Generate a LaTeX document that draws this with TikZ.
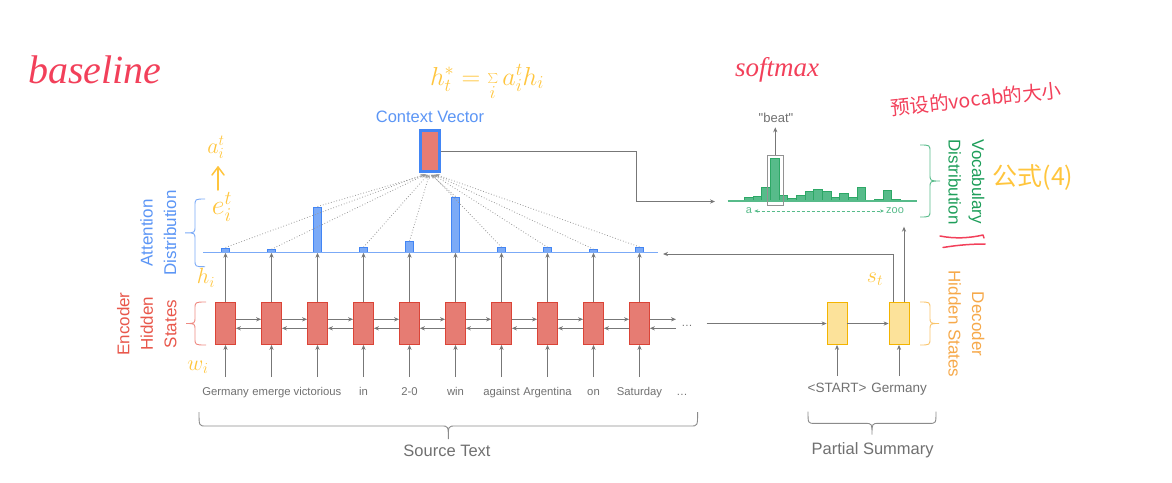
\RequirePackage{fix-cm}
\documentclass[tikz,border=0pt]{standalone}
\usepackage{fontspec}
\setmainfont{Liberation Sans}
\newfontfamily\handfont{Liberation Serif}
\newfontfamily\cjk{Noto Sans CJK SC}
\usetikzlibrary{arrows.meta}

\definecolor{gline}{HTML}{777777}
\definecolor{gtext}{HTML}{707070}
\definecolor{encfill}{HTML}{E67C73}
\definecolor{encdraw}{HTML}{DB4437}
\definecolor{enctext}{HTML}{E8574B}
\definecolor{encbrace}{HTML}{EE8A82}
\definecolor{attblue}{HTML}{4285F4}
\definecolor{atttext}{HTML}{5B95F5}
\definecolor{attfill}{HTML}{7BAAF7}
\definecolor{vocgreen}{HTML}{1E9E5A}
\definecolor{vocfill}{HTML}{57BB8A}
\definecolor{vocdraw}{HTML}{2DA866}
\definecolor{decfill}{HTML}{FCE29A}
\definecolor{decdraw}{HTML}{F4B400}
\definecolor{dectext}{HTML}{F6A94A}
\definecolor{decbrace}{HTML}{F9C46B}
\definecolor{penred}{HTML}{F2405A}
\definecolor{penyellow}{HTML}{FFC53D}

% curly brace: length / offset of the straight part / offset of the tip
\tikzset{pics/cbrace/.style args={#1/#2/#3}{code={%
  \draw[pic actions] (0,0) .. controls (0,#2) .. (7,#2) -- ({#1/2-7},#2)
    .. controls ({#1/2},#2) .. ({#1/2},#3)
    .. controls ({#1/2},#2) .. ({#1/2+7},#2) -- ({#1-7},#2)
    .. controls (#1,#2) .. (#1,0);}}}

\begin{document}
\begin{tikzpicture}[x=1pt,y=-1pt,
  every node/.style={inner sep=0pt},
  conn/.style={draw=gline, line width=0.9pt, -{Stealth[length=5pt,width=4.2pt]}},
  encbox/.style={rectangle, draw=encdraw, fill=encfill, line width=0.8pt,
    minimum width=20pt, minimum height=42pt},
  decbox/.style={rectangle, draw=decdraw, fill=decfill, line width=0.8pt,
    minimum width=20pt, minimum height=42pt},
  ctxbox/.style={rectangle, draw=attblue, fill=encfill, line width=3pt,
    minimum width=19pt, minimum height=41pt},
  word/.style={text=gtext, font=\fontsize{11.3}{13}\selectfont, anchor=base},
  decword/.style={text=gtext, font=\fontsize{13.5}{15}\selectfont, anchor=base},
  caption/.style={text=gtext, font=\fontsize{16.5}{19}\selectfont},
  sidelabel/.style={align=center, font=\fontsize{17}{23.5}\selectfont},
  attbar/.style={rectangle, draw=attblue, fill=attfill, line width=0.8pt,
    minimum width=8.5pt, anchor=south},
  vocbar/.style={rectangle, draw=vocdraw, fill=vocfill, line width=0.7pt,
    minimum width=8.67pt, anchor=south},
  attn/.style={draw=gline!75, line width=0.8pt, dotted,
    -{Stealth[length=4pt,width=3.4pt]}},
  pen/.style={line width=1.5pt, line cap=round, line join=round},
]
\useasboundingbox (0,0) rectangle (1172,482);

% ---------------- encoder ----------------
\coordinate (fy) at (0,319.3);
\coordinate (by) at (0,328.3);
\coordinate (attL) at (203,252.7);
\coordinate (attR) at (658,252.7);
\foreach \w [count=\i from 0] in {Germany,emerge,victorious,in,2-0,win,against,Argentina,on,Saturday}{
  \node[encbox] (e\i) at ({225.5+46*\i},323.5) {};
  \node[word] (w\i) at ({225.5+46*\i},395) {\w};
  \coordinate (in\i) at ({225.5+46*\i},377);
  \draw[conn] (in\i) -- (e\i.south);
  \draw[conn] (e\i.north) -- (e\i.north |- attL);
}
\foreach \i [evaluate=\i as \j using int(\i+1)] in {0,...,8}{
  \draw[conn] (e\i.east |- fy) -- (e\j.west |- fy);
  \draw[conn] (e\j.west |- by) -- (e\i.east |- by);
}
\coordinate (fwdend) at (676,319.3);
\coordinate (bwdstart) at (676,328.3);
\draw[conn] (e9.east |- fy) -- (fwdend);
\draw[conn] (bwdstart) -- (e9.east |- by);
\node[word] (dotsA) at (687,326) {…};
\node[word] (dotsB) at (682,395) {…};

% ---------------- context vector & attention ----------------
\node[ctxbox] (cv) at (430,151) {};
\node[text=atttext, font=\fontsize{16.5}{19}\selectfont] (cvl) at (430,116.7) {Context Vector};

\foreach \h [count=\i from 0] in {4.4,2.7,45.4,4.7,10.7,55.4,4.7,4.7,2.7,5}{
  \node[attbar, minimum height=\h pt] (b\i) at ({225.5+46*\i},252.7) {};
}
\foreach \i in {0,...,9}{
  \draw[attn] (b\i.north) -- ([xshift={(\i-4.5)*1.3pt}, yshift=-1.5pt]cv.south);
}
\draw[draw=attfill, line width=1.5pt] (attL) -- (attR);

% ---------------- decoder ----------------
\coordinate (encout) at (706.7,323.5);
\node[decbox] (d0) at (837,323.5) {};
\node[decbox] (d1) at (899,323.5) {};
\draw[conn] (encout) -- (d0.west);
\draw[conn] (d0.east) -- (d1.west);
\node[decword] (ds) at (837,392.5) {<START>};
\node[decword] (dg) at (899,392.5) {Germany};
\coordinate (din0) at (837,376);
\coordinate (din1) at (899,376);
\draw[conn] (din0) -- (d0.south);
\draw[conn] (din1) -- (d1.south);
\coordinate (attin) at (663,254);
\draw[conn] ([xshift=-5.7pt]d1.north) |- (attin);

% ---------------- vocabulary distribution ----------------
\coordinate (vocL) at (727.7,201);
\coordinate (vocR) at (917,201);
\foreach \h [count=\k from 0] in {3.7,4.3,13.7,42,5,2.7,5,9.7,11.7,9.7,3.7,7.7,3.7,13.7,0.8,1.7,10.3,1.7}{
  \node[vocbar, minimum height=\h pt] (v\k) at ({748.6+8.67*\k},201) {};
}
\draw[draw=vocfill, line width=1.3pt] (vocL) -- (vocR);
\node[draw=gline!80, line width=0.9pt, minimum width=16pt, minimum height=49.3pt] (beatbox) at (775.3,180.4) {};
\coordinate (beattop) at (775.3,127.3);
\draw[conn] (beatbox.north) -- (beattop);
\node[text=gtext, font=\fontsize{13}{15}\selectfont] (beat) at (776,118.3) {\textquotedbl beat\textquotedbl};
\node[text=vocfill, font=\fontsize{11}{13}\selectfont, inner sep=2pt] (va) at (749,211) {a};
\node[text=vocfill, font=\fontsize{11}{13}\selectfont, inner sep=2pt] (vz) at (895,211) {zoo};
\draw[draw=vocfill, line width=0.9pt, dash pattern=on 3pt off 2pt,
  {Stealth[length=4pt,width=3.4pt]}-{Stealth[length=4pt,width=3.4pt]}] (va.east) -- (vz.west);

\coordinate (bend) at (636.7,201.5);
\coordinate (vocin) at (715,201.5);
\draw[conn] (cv.east) -| (bend) -- (vocin);
\coordinate (vocup) at (904,226.7);
\draw[conn] ([xshift=5pt]d1.north) -- (vocup);

% ---------------- braces and side labels ----------------
\pic[draw=encbrace, line width=0.9pt, rotate=-90] at (206,302) {cbrace=43/11/20};
\pic[draw=attfill, line width=0.9pt, rotate=-90] at (205,199) {cbrace=67.7/10/20};
\pic[draw=decbrace, line width=0.9pt, rotate=90] at (920,345) {cbrace=43/10/19};
\pic[draw=vocfill, line width=0.9pt, rotate=90] at (920,217) {cbrace=72/10/20};
\pic[draw=gline!85, line width=0.9pt] at (199,412) {cbrace=498.6/14/27};
\pic[draw=gline!85, line width=0.9pt] at (808,411.7) {cbrace=128/11.7/23};

\node[sidelabel, text=enctext, rotate=90] (enclab) at (146.7,324) {Encoder\\Hidden\\States};
\node[sidelabel, text=atttext, rotate=90] (attlab) at (158.3,233) {Attention\\Distribution};
\node[sidelabel, text=dectext, rotate=-90] (declab) at (966.5,324) {Decoder\\Hidden States};
\node[sidelabel, text=vocgreen, rotate=-90] (voclab) at (966.5,182) {Vocabulary\\Distribution};

\node[caption] (src) at (447,451) {Source Text};
\node[caption] (part) at (872.7,450) {Partial Summary};

% ---------------- pen annotations ----------------
\node[text=penred, font=\handfont\itshape\fontsize{40}{42}\selectfont] (hbase) at (95,70) {baseline};
\node[text=penred, font=\handfont\itshape\fontsize{27}{30}\selectfont] (hsoft) at (777,70) {softmax};
\node[text=penred, font=\cjk\fontsize{19.5}{22}\selectfont, rotate=6] (hvoc) at (976,99) {预设的vocab的大小};
\node[text=penyellow, font=\fontsize{26}{30}\selectfont] (hform) at (487,82) {$h^{*}_{t}=\sum\limits_{i} a_i^t h_i$};
\node[text=penyellow, font=\cjk\fontsize{25}{30}\selectfont] (hgs) at (1033,177) {公式(4)};
\node[text=penyellow, font=\fontsize{22}{24}\selectfont] (hat) at (216,147) {$a_i^t$};
\node[text=penyellow, font=\fontsize{28}{30}\selectfont] (het) at (222,207) {$e_i^t$};
\node[text=penyellow, font=\fontsize{22}{24}\selectfont] (hhi) at (206,278) {$h_i$};
\node[text=penyellow, font=\fontsize{22}{24}\selectfont] (hwi) at (198,367) {$w_i$};
\node[text=penyellow, font=\fontsize{22}{24}\selectfont] (hst) at (875,279) {$s_t$};
\draw[pen, draw=penyellow] (218,190) -- (218,167);
\draw[pen, draw=penyellow] (212,175) -- (218,167) -- (224,175);
\draw[pen, draw=penred] (940,236) .. controls (955,239) and (970,238) .. (983,235) -- (984,238);
\draw[pen, draw=penred] (943,247.5) .. controls (958,245) and (972,244) .. (985,244);
\end{tikzpicture}
\end{document}
